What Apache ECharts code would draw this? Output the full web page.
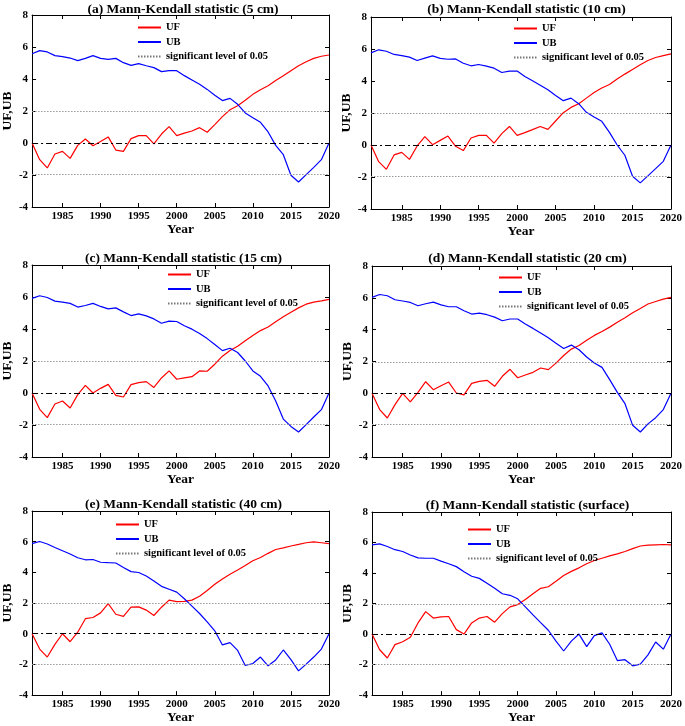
<!DOCTYPE html>
<html>
<head>
<meta charset="utf-8">
<script src="https://cdn.jsdelivr.net/npm/echarts@6/dist/echarts.min.js"></script>
<style>
  html, body { margin: 0; padding: 0; background: #fff; }
  #chart { width: 685px; height: 726px; }
</style>
</head>
<body>
<div id="chart"></div>
<script>
var years = ['1981','1982','1983','1984','1985','1986','1987','1988','1989','1990',
  '1991','1992','1993','1994','1995','1996','1997','1998','1999','2000',
  '2001','2002','2003','2004','2005','2006','2007','2008','2009','2010',
  '2011','2012','2013','2014','2015','2016','2017','2018','2019','2020'];

var titles = [
  '(a) Mann-Kendall statistic (5 cm)',
  '(b) Mann-Kendall statistic (10 cm)',
  '(c) Mann-Kendall statistic (15 cm)',
  '(d) Mann-Kendall statistic (20 cm)',
  '(e) Mann-Kendall statistic (40 cm)',
  '(f) Mann-Kendall statistic (surface)'
];

var sigLevel = [1.96, -1.96];

// (a) 5 cm
var ufA = [0,-1.04,-1.56,-0.69,-0.52,-0.96,-0.15,0.25,-0.17,0.1,0.38,-0.44,-0.52,0.27,0.46,0.46,-0.06,0.56,1.02,0.46,
  0.62,0.75,0.96,0.67,1.15,1.65,2.08,2.33,2.67,3.04,3.33,3.58,3.9,4.2,4.52,4.83,5.08,5.29,5.42,5.5];
var ubA = [5.58,5.77,5.69,5.46,5.4,5.31,5.15,5.29,5.46,5.29,5.23,5.29,5.02,4.85,4.96,4.83,4.71,4.46,4.52,4.52,
  4.21,3.94,3.67,3.35,2.98,2.65,2.79,2.42,1.88,1.58,1.29,0.69,-0.15,-0.73,-2.02,-2.44,-1.98,-1.52,-1.04,0];
// (b) 10 cm
var ufB = [0,-1.04,-1.52,-0.62,-0.46,-0.9,-0.06,0.52,0.02,0.29,0.56,-0.08,-0.35,0.44,0.6,0.6,0.12,0.71,1.16,0.6,
  0.77,0.96,1.16,0.98,1.5,2.02,2.35,2.58,2.93,3.28,3.56,3.78,4.12,4.43,4.72,5.01,5.28,5.47,5.59,5.7];
var ubB = [5.76,5.95,5.86,5.66,5.59,5.49,5.28,5.43,5.57,5.41,5.36,5.38,5.11,4.95,5.03,4.93,4.8,4.53,4.62,4.62,
  4.28,4.01,3.74,3.45,3.1,2.77,2.93,2.58,2.04,1.75,1.48,0.79,0,-0.64,-1.95,-2.37,-1.93,-1.48,-1.02,0];
// (c) 15 cm
var ufC = [0,-1.02,-1.54,-0.69,-0.5,-0.94,-0.1,0.48,0,0.29,0.54,-0.15,-0.25,0.52,0.65,0.71,0.35,0.94,1.38,0.86,
  0.94,1.02,1.38,1.36,1.8,2.3,2.65,2.92,3.26,3.59,3.9,4.13,4.45,4.76,5.05,5.32,5.55,5.68,5.76,5.85];
var ubC = [5.91,6.08,5.97,5.74,5.68,5.6,5.37,5.47,5.6,5.41,5.26,5.32,5.07,4.84,4.95,4.82,4.63,4.36,4.49,4.47,
  4.2,3.99,3.72,3.4,3.03,2.65,2.8,2.53,2.0,1.38,1.04,0.44,-0.5,-1.63,-2.09,-2.44,-1.98,-1.5,-1.04,0];
// (d) 20 cm
var ufD = [0,-1.02,-1.55,-0.71,0,-0.54,0.06,0.73,0.23,0.48,0.71,0.02,-0.1,0.63,0.75,0.82,0.44,1.07,1.51,0.98,
  1.15,1.32,1.59,1.49,1.9,2.38,2.78,3.01,3.33,3.64,3.89,4.16,4.46,4.75,5.06,5.33,5.61,5.77,5.92,6.03];
var ubD = [6.03,6.21,6.13,5.88,5.8,5.71,5.5,5.63,5.73,5.56,5.44,5.44,5.19,4.98,5.04,4.94,4.79,4.56,4.67,4.67,
  4.35,4.08,3.79,3.49,3.14,2.82,3.03,2.74,2.28,1.9,1.63,0.86,0.06,-0.65,-2.01,-2.43,-1.92,-1.53,-1.02,0];
// (e) 40 cm
var ufE = [0,-1.0,-1.52,-0.69,0,-0.52,0.1,0.98,1.06,1.36,1.96,1.27,1.13,1.73,1.75,1.54,1.19,1.73,2.19,2.09,
  2.11,2.19,2.44,2.82,3.22,3.57,3.88,4.15,4.45,4.76,4.97,5.24,5.49,5.6,5.72,5.82,5.93,5.99,5.93,5.87];
var ubE = [5.87,6.01,5.85,5.62,5.41,5.2,4.95,4.82,4.84,4.66,4.63,4.61,4.32,4.05,3.99,3.76,3.44,3.09,2.9,2.71,
  2.28,1.8,1.32,0.77,0.19,-0.73,-0.58,-1.09,-2.07,-1.94,-1.52,-2.09,-1.71,-1.06,-1.69,-2.42,-1.98,-1.52,-1.0,0];
// (f) surface
var ufF = [0,-1.03,-1.57,-0.69,-0.5,-0.21,0.73,1.47,1.05,1.13,1.15,0.29,0,0.73,1.05,1.15,0.78,1.34,1.78,1.93,
  2.26,2.64,3.0,3.1,3.46,3.84,4.11,4.34,4.61,4.82,4.97,5.12,5.26,5.41,5.6,5.77,5.83,5.85,5.87,5.85];
var ubF = [5.85,5.91,5.74,5.53,5.41,5.18,4.99,4.97,4.97,4.78,4.61,4.42,4.09,3.79,3.65,3.33,3.0,2.64,2.54,2.31,
  1.78,1.26,0.75,0.25,-0.46,-1.11,-0.46,0,-0.82,-0.1,0.08,-0.67,-1.74,-1.68,-2.08,-1.97,-1.36,-0.52,-0.99,0];

var ufAll = [ufA, ufB, ufC, ufD, ufE, ufF];
var ubAll = [ubA, ubB, ubC, ubD, ubE, ubF];

// layout: [left, top, width, height]
var boxes = [
  [27, 15, 302, 192], [371, 17, 301, 192],
  [28, 265, 301, 192], [372, 266, 301, 191],
  [28, 511, 301, 191], [372, 512, 301, 191]
];
var titleTops = [-2, -2, 247, 247, 493, 494];
var legendPos = [[137, 22], [513, 23], [167, 269], [498, 272], [115, 519], [467, 524]];

var font = 'Liberation Serif';
var every5 = function(idx, val) { return Number(val) % 5 === 0; };

var grid = [], xAxis = [], yAxis = [], series = [], title = [], legend = [];

boxes.forEach(function(b, i) {
  grid.push({ left: b[0], top: b[1], width: b[2], height: b[3], show: false });
  title.push({
    text: titles[i], left: b[0] + b[2] / 2, top: titleTops[i], textAlign: 'center',
    textStyle: { fontFamily: font, fontWeight: 'bold', fontSize: 13.5, color: '#000' }
  });
  legend.push({
    data: ['UF', 'UB', 'significant level of 0.05'],
    orient: 'vertical', left: legendPos[i][0], top: legendPos[i][1], padding: 0,
    itemWidth: 23, itemHeight: 10, itemGap: 3.5, selectedMode: false,
    itemStyle: { opacity: 0 },
    textStyle: { fontFamily: font, fontWeight: 'bold', fontSize: 10.5, color: '#000', lineHeight: 10 }
  });
  ['bottom', 'top'].forEach(function(pos) {
    xAxis.push({
      type: 'category', gridIndex: i, position: pos, data: years, boundaryGap: false,
      name: pos === 'bottom' ? 'Year' : '', nameLocation: 'middle', nameGap: 10,
      nameTextStyle: { fontFamily: font, fontWeight: 'bold', fontSize: 13.5, color: '#000' },
      axisLine: { onZero: false, lineStyle: { color: '#000', width: 1 } },
      axisTick: { inside: true, length: 4, interval: every5, lineStyle: { color: '#000' } },
      axisLabel: { show: pos === 'bottom', interval: every5, margin: 4,
        fontFamily: font, fontWeight: 'bold', fontSize: 11, color: '#000' },
      splitLine: { show: false }
    });
  });
  ['left', 'right'].forEach(function(pos) {
    yAxis.push({
      type: 'value', gridIndex: i, position: pos, min: -4, max: 8, interval: 2,
      name: pos === 'left' ? 'UF,UB' : '', nameLocation: 'middle', nameGap: 16, nameRotate: 90,
      nameTextStyle: { fontFamily: font, fontWeight: 'bold', fontSize: 13.5, color: '#000' },
      axisLine: { show: true, onZero: false, lineStyle: { color: '#000', width: 1 } },
      axisTick: { show: true, inside: true, length: 4, lineStyle: { color: '#000' } },
      axisLabel: { show: pos === 'left', margin: 4,
        fontFamily: font, fontWeight: 'bold', fontSize: 11, color: '#000' },
      splitLine: { show: false }
    });
  });
  var xi = i * 2, yi = i * 2;
  series.push({
    name: 'zero', type: 'line', xAxisIndex: xi, yAxisIndex: yi, data: [], silent: true,
    markLine: { silent: true, symbol: 'none', label: { show: false },
      lineStyle: { color: '#000', width: 1, type: [6, 3, 2, 3] }, data: [{ yAxis: 0 }] }
  });
  series.push({
    name: 'significant level of 0.05', type: 'line', xAxisIndex: xi, yAxisIndex: yi, data: [],
    symbol: 'none', silent: true,
    lineStyle: { color: '#777', width: 1, type: [1.5, 1.5] }, itemStyle: { color: '#777' },
    markLine: { silent: true, symbol: 'none', label: { show: false },
      lineStyle: { color: '#999', width: 1, type: [1.5, 1.5] },
      data: sigLevel.map(function(v) { return { yAxis: v }; }) }
  });
  series.push({
    name: 'UF', type: 'line', xAxisIndex: xi, yAxisIndex: yi, data: ufAll[i],
    symbol: 'none', lineStyle: { color: '#ff0000', width: 1.2 }, itemStyle: { color: '#ff0000' }
  });
  series.push({
    name: 'UB', type: 'line', xAxisIndex: xi, yAxisIndex: yi, data: ubAll[i],
    symbol: 'none', lineStyle: { color: '#0000ff', width: 1.2 }, itemStyle: { color: '#0000ff' }
  });
});

var chart = echarts.init(document.getElementById('chart'), null, { renderer: 'canvas' });
chart.setOption({
  animation: false,
  backgroundColor: '#fff',
  title: title, legend: legend, grid: grid, xAxis: xAxis, yAxis: yAxis, series: series
});
</script>
</body>
</html>
